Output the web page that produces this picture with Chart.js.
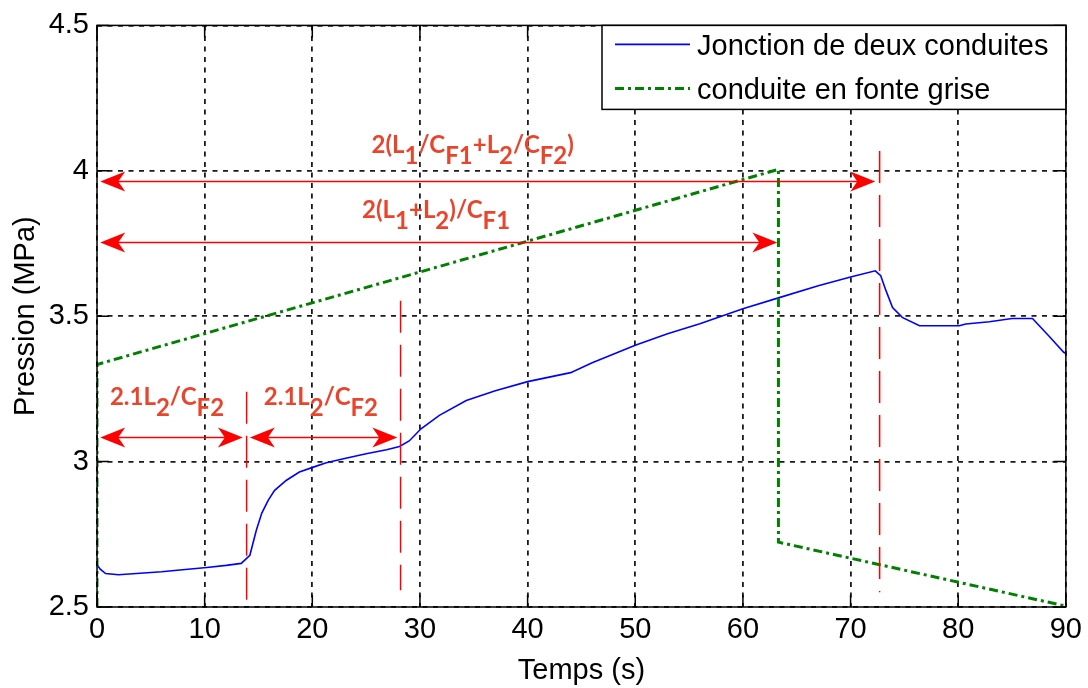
<!DOCTYPE html>
<html>
<head>
<meta charset="utf-8">
<script src="https://cdn.jsdelivr.net/npm/chart.js@4/dist/chart.umd.min.js"></script>
<style>
html,body{margin:0;padding:0;background:#fff;}
#wrap{width:1088px;height:688px;position:relative;}
</style>
</head>
<body>
<div id="wrap"><canvas id="c" width="1088" height="688"></canvas></div>
<script>
// ---- data ----
const timeBlue = [0, 0.3, 0.8, 2, 4, 6, 7.7, 10.2, 12, 13.4, 14.2, 14.8, 15.3, 15.9, 16.5, 17.6, 18.8, 20.1, 21.3, 22.9, 25.0, 26.9, 28.1, 29.0, 30.1, 31.8, 34.3, 37, 40, 44, 46, 50, 53, 56, 60, 63.3, 67, 70, 72.3, 72.8, 73.3, 73.9, 74.8, 76.4, 80.1, 80.7, 82.9, 85.0, 86.9, 88.4, 89.8, 90];
const pressureBlue = [2.645, 2.63, 2.615, 2.611, 2.616, 2.621, 2.627, 2.636, 2.643, 2.650, 2.678, 2.764, 2.822, 2.867, 2.901, 2.936, 2.964, 2.981, 2.996, 3.010, 3.027, 3.041, 3.052, 3.071, 3.113, 3.159, 3.210, 3.244, 3.275, 3.306, 3.34, 3.40, 3.44, 3.474, 3.526, 3.563, 3.605, 3.635, 3.656, 3.639, 3.587, 3.530, 3.496, 3.467, 3.467, 3.473, 3.481, 3.492, 3.492, 3.433, 3.376, 3.372];
const timeGreen = [0, 0, 63.3, 63.3, 90];
const pressureGreen = [2.5, 3.334, 4.005, 2.723, 2.503];
const seriesLabels = ["Jonction de deux conduites", "conduite en fonte grise"];
const xTicks = [0, 10, 20, 30, 40, 50, 60, 70, 80, 90];
const yTicks = [2.5, 3, 3.5, 4, 4.5];
const xTitle = "Temps (s)";
const yTitle = "Pression (MPa)";

// annotation values (time, pressure)
const markerTimes = [13.9, 28.2, 72.7];
const markerFrom = [3.24, 3.553, 4.068];
const markerTo = [2.52, 2.558, 2.551];
const arrowFrom = [0.3, 0.3, 0.3, 14.2];
const arrowTo = [72.3, 63.2, 13.55, 27.9];
const arrowLevel = [3.965, 3.756, 3.083, 3.083];
const noteTexts = [
  [["2(L",0],["1",1],["/C",0],["F1",1],["+L",0],["2",1],["/C",0],["F2",1],[")",0]],
  [["2(L",0],["1",1],["+L",0],["2",1],[")/C",0],["F1",1]],
  [["2.1L",0],["2",1],["/C",0],["F2",1]],
  [["2.1L",0],["2",1],["/C",0],["F2",1]]
];
const noteX = [34.9, 31.5, 6.5, 20.8];
const noteY = [4.061, 3.838, 3.193, 3.193];

const toXY = (t, p) => t.map((v, i) => ({x: v, y: p[i]}));

const FONT = "'Liberation Sans', Arial, sans-serif";

function drawArrowHead(ctx, tx, ty, dir) {
  const L = 25, W = 10, N = 18;
  ctx.beginPath();
  ctx.moveTo(tx, ty);
  ctx.lineTo(tx + dir * L, ty - W);
  ctx.lineTo(tx + dir * N, ty);
  ctx.lineTo(tx + dir * L, ty + W);
  ctx.closePath();
  ctx.fill();
}

const annotPlugin = {
  id: 'annot',
  afterDatasetsDraw(chart) {
    const ctx = chart.ctx, xs = chart.scales.x, ys = chart.scales.y;
    ctx.save();
    // red dashed markers
    ctx.strokeStyle = '#ff0000';
    ctx.lineWidth = 1.5;
    ctx.setLineDash([32, 12]);
    markerTimes.forEach((t, i) => {
      const px = xs.getPixelForValue(t);
      ctx.beginPath();
      ctx.moveTo(px, ys.getPixelForValue(markerFrom[i]));
      ctx.lineTo(px, ys.getPixelForValue(markerTo[i]));
      ctx.stroke();
    });
    ctx.setLineDash([]);
    // arrows
    ctx.fillStyle = '#ff0000';
    arrowFrom.forEach((t, i) => {
      const x1 = xs.getPixelForValue(t), x2 = xs.getPixelForValue(arrowTo[i]);
      const y = Math.round(ys.getPixelForValue(arrowLevel[i])) + 0.5;
      ctx.beginPath();
      ctx.moveTo(x1 + 10, y); ctx.lineTo(x2 - 10, y); ctx.stroke();
      drawArrowHead(ctx, x1, y, 1);
      drawArrowHead(ctx, x2, y, -1);
    });
    // labels
    ctx.fillStyle = '#e8452c';
    ctx.font = "bold 24px Lato, 'Liberation Sans', sans-serif";
    ctx.textBaseline = 'alphabetic';
    ctx.textAlign = 'left';
    noteTexts.forEach((runs, i) => {
      let w = 0;
      runs.forEach(r => { w += ctx.measureText(r[0]).width; });
      let x = xs.getPixelForValue(noteX[i]) - w / 2;
      const base = ys.getPixelForValue(noteY[i]);
      runs.forEach(r => {
        ctx.fillText(r[0], x, base + (r[1] ? 11 : 0));
        x += ctx.measureText(r[0]).width;
      });
    });
    ctx.restore();
  },
  afterDraw(chart) {
    const ctx = chart.ctx, xs = chart.scales.x, ys = chart.scales.y, a = chart.chartArea;
    ctx.save();
    // frame
    ctx.strokeStyle = '#000';
    ctx.lineWidth = 1.5;
    ctx.strokeRect(a.left, a.top, a.right - a.left, a.bottom - a.top);
    // inward ticks
    const T = 12;
    ctx.beginPath();
    xTicks.forEach(v => {
      const px = xs.getPixelForValue(v);
      ctx.moveTo(px, a.bottom); ctx.lineTo(px, a.bottom - T);
      ctx.moveTo(px, a.top); ctx.lineTo(px, a.top + T);
    });
    yTicks.forEach(v => {
      const py = ys.getPixelForValue(v);
      ctx.moveTo(a.left, py); ctx.lineTo(a.left + T, py);
      ctx.moveTo(a.right, py); ctx.lineTo(a.right - T, py);
    });
    ctx.stroke();
    // legend box
    const bx = 602, by = a.top, bw = a.right - 602, bh = 84;
    ctx.fillStyle = '#fff';
    ctx.fillRect(bx, by, bw, bh);
    ctx.strokeRect(bx, by, bw, bh);
    ctx.font = "29px " + FONT;
    ctx.textBaseline = 'middle';
    ctx.fillStyle = '#000';
    chart.data.datasets.forEach((ds, i) => {
      const cy = by + 20 + i * 44;
      ctx.strokeStyle = ds.borderColor;
      ctx.lineWidth = ds.borderWidth;
      ctx.setLineDash(ds.borderDash || []);
      ctx.beginPath();
      ctx.moveTo(615, cy - 1); ctx.lineTo(690, cy - 1); ctx.stroke();
      ctx.setLineDash([]);
      ctx.fillText(ds.label, 697, cy + 2);
    });
    ctx.restore();
  }
};

const gridOpts = {color: '#1a1a1a', lineWidth: 1.8, drawTicks: false};
new Chart(document.getElementById('c'), {
  type: 'scatter',
  data: {
    datasets: [
      {label: seriesLabels[0], data: toXY(timeBlue, pressureBlue), showLine: true, borderColor: '#0000ff', borderWidth: 1.6, pointRadius: 0, tension: 0, order: 2},
      {label: seriesLabels[1], data: toXY(timeGreen, pressureGreen), showLine: true, borderColor: '#008000', borderWidth: 3, borderDash: [9, 4, 3, 4], pointRadius: 0, tension: 0, order: 1}
    ]
  },
  options: {
    responsive: false,
    animation: false,
    devicePixelRatio: 1,
    layout: {padding: {left: 0, top: 24, right: 21, bottom: 0}},
    plugins: {legend: {display: false}, tooltip: {enabled: false}},
    scales: {
      x: {
        type: 'linear', min: 0, max: 90,
        afterBuildTicks: s => { s.ticks = xTicks.map(v => ({value: v})); },
        afterFit: s => { s.height = 81; },
        grid: gridOpts,
        border: {display: false, dash: [5, 5.5]},
        ticks: {color: '#000', font: {family: FONT, size: 29}, padding: 6, maxRotation: 0, callback: v => String(v)},
        title: {display: true, text: xTitle, color: '#000', font: {family: FONT, size: 29}, padding: {top: 0, bottom: 0}}
      },
      y: {
        type: 'linear', min: 2.5, max: 4.5,
        afterBuildTicks: s => { s.ticks = yTicks.map(v => ({value: v})); },
        afterFit: s => { s.width = 97; },
        grid: gridOpts,
        border: {display: false, dash: [5, 5.5]},
        ticks: {color: '#000', font: {family: FONT, size: 29}, padding: 8, callback: v => String(v)},
        title: {display: true, text: yTitle, color: '#000', font: {family: FONT, size: 29}, padding: {top: 9, bottom: 0}}
      }
    }
  },
  plugins: [annotPlugin]
});
</script>
</body>
</html>
